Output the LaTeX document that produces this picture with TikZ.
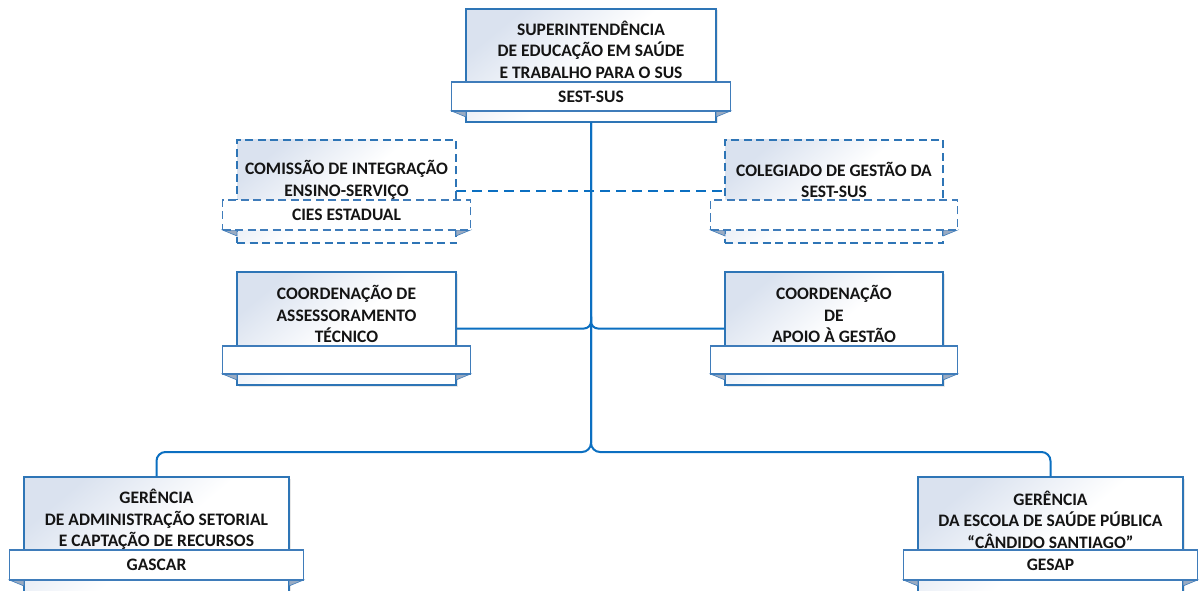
\documentclass[tikz,border=0pt]{standalone}
\usepackage{fontspec}
\setmainfont{Carlito}
\usetikzlibrary{shadows}
\definecolor{bord}{HTML}{2E75B6}
\definecolor{ribb}{HTML}{3F7CBA}
\definecolor{connc}{HTML}{0B6FC1}
\definecolor{shadeA}{HTML}{DAE2EF}
\definecolor{foldc}{HTML}{9AABC2}
\definecolor{txt}{HTML}{141414}
\tikzset{
  txtfont/.style={font=\fontsize{17.5}{21.5}\selectfont\bfseries, text=txt},
  solidbox/.style={draw=bord, line width=1.5pt, top color=shadeA, bottom color=white, middle color=white, shading angle=40, inner sep=0pt,
    drop shadow={shadow xshift=1.5pt, shadow yshift=-1.5pt, opacity=0.18, fill=gray}},
  dashbox/.style={draw=bord, line width=1.8pt, dash pattern=on 8pt off 4.5pt, top color=shadeA, bottom color=white, middle color=white, shading angle=40, inner sep=0pt},
  solidrib/.style={draw=ribb, line width=1.3pt, fill=white, inner sep=0pt, txtfont},
  dashrib/.style={draw=ribb, line width=1.7pt, dash pattern=on 8pt off 4.5pt, fill=white, inner sep=0pt, txtfont},
  foldtri/.style={fill=foldc, draw=ribb, line width=0.6pt},
  label/.style={txtfont, align=center, inner sep=0pt},
  conn/.style={draw=connc, line width=2pt},
  dconn/.style={draw=connc, line width=2pt, dash pattern=on 10pt off 6pt},
}
% #1 name, #2 style prefix, #3 left, #4 top, #5 right, #6 bottom, #7 ribbon top, #8 ribbon bottom, #9 ribbon text
\newcommand\orgunit[9]{%
  \node[#2box, minimum width={(#5-#3)*1pt}, minimum height={(#6-#4)*1pt}] (#1) at ({(#3+#5)/2},{(#4+#6)/2}) {};
  \path[foldtri] (#3-14.5,#8) -- (#3,#8) -- (#3,#8+6) -- cycle;
  \path[foldtri] (#5+14.5,#8) -- (#5,#8) -- (#5,#8+6) -- cycle;
  \node[#2rib, minimum width={(#5-#3+29)*1pt}, minimum height={(#8-#7)*1pt}] (#1r) at ({(#3+#5)/2},{(#7+#8)/2}) {#9};
}
\begin{document}
\begin{tikzpicture}[x=1pt,y=-1pt]
\useasboundingbox (0,0) rectangle (1203,591);
\clip (0,0) rectangle (1203,591);
\fill[white] (0,0) rectangle (1203,591);

\coordinate (j) at (591,452);

% dashed link (behind)
\coordinate (dl) at (456,191.5);
\coordinate (dr) at (725,191.5);
\draw[dconn] (dl) -- (dr);

\orgunit{sup}{solid}{466}{9}{716}{122}{82}{111}{SEST-SUS}
\node[label] (supT) at (591,49.5) {SUPERINTENDÊNCIA\\DE EDUCAÇÃO EM SAÚDE\\E TRABALHO PARA O SUS};

\orgunit{cies}{dash}{237}{140}{456}{243}{200}{230}{CIES ESTADUAL}
\node[label] (ciesT) at (346.5,180) {COMISSÃO DE INTEGRAÇÃO\\ENSINO-SERVIÇO};

\orgunit{coleg}{dash}{725}{140}{943}{243}{200}{230}{}
\node[label] (colegT) at (834,180) {COLEGIADO DE GESTÃO DA\\SEST-SUS};

\orgunit{cat}{solid}{237}{272}{456}{385}{346}{374}{}
\node[label] (catT) at (346.5,314) {COORDENAÇÃO DE\\ASSESSORAMENTO\\TÉCNICO};

\orgunit{cag}{solid}{725}{272}{943}{385}{346}{374}{}
\node[label] (cagT) at (834,314) {COORDENAÇÃO\\DE\\APOIO À GESTÃO};

\orgunit{gascar}{solid}{24}{477}{289}{610}{550}{580}{GASCAR}
\node[label] (gascarT) at (156.5,519.5) {GERÊNCIA\\DE ADMINISTRAÇÃO SETORIAL\\E CAPTAÇÃO DE RECURSOS};

\orgunit{gesap}{solid}{918}{477}{1183}{610}{550}{580}{GESAP}
\node[label] (gesapT) at (1050.5,519.5) {GERÊNCIA\\DA ESCOLA DE SAÚDE PÚBLICA\\“CÂNDIDO SANTIAGO”};

% connectors
\draw[conn, rounded corners=7] (cat.east) -- (cat.east -| j) -- ++(0,-12);
\draw[conn, rounded corners=7] (cag.west) -- (cag.west -| j) -- ++(0,-12);
\draw[conn, rounded corners=9] (sup.south) -- (j) -| (gascar.north);
\draw[conn, rounded corners=9] (sup.south) -- (j) -| (gesap.north);
\end{tikzpicture}
\end{document}
